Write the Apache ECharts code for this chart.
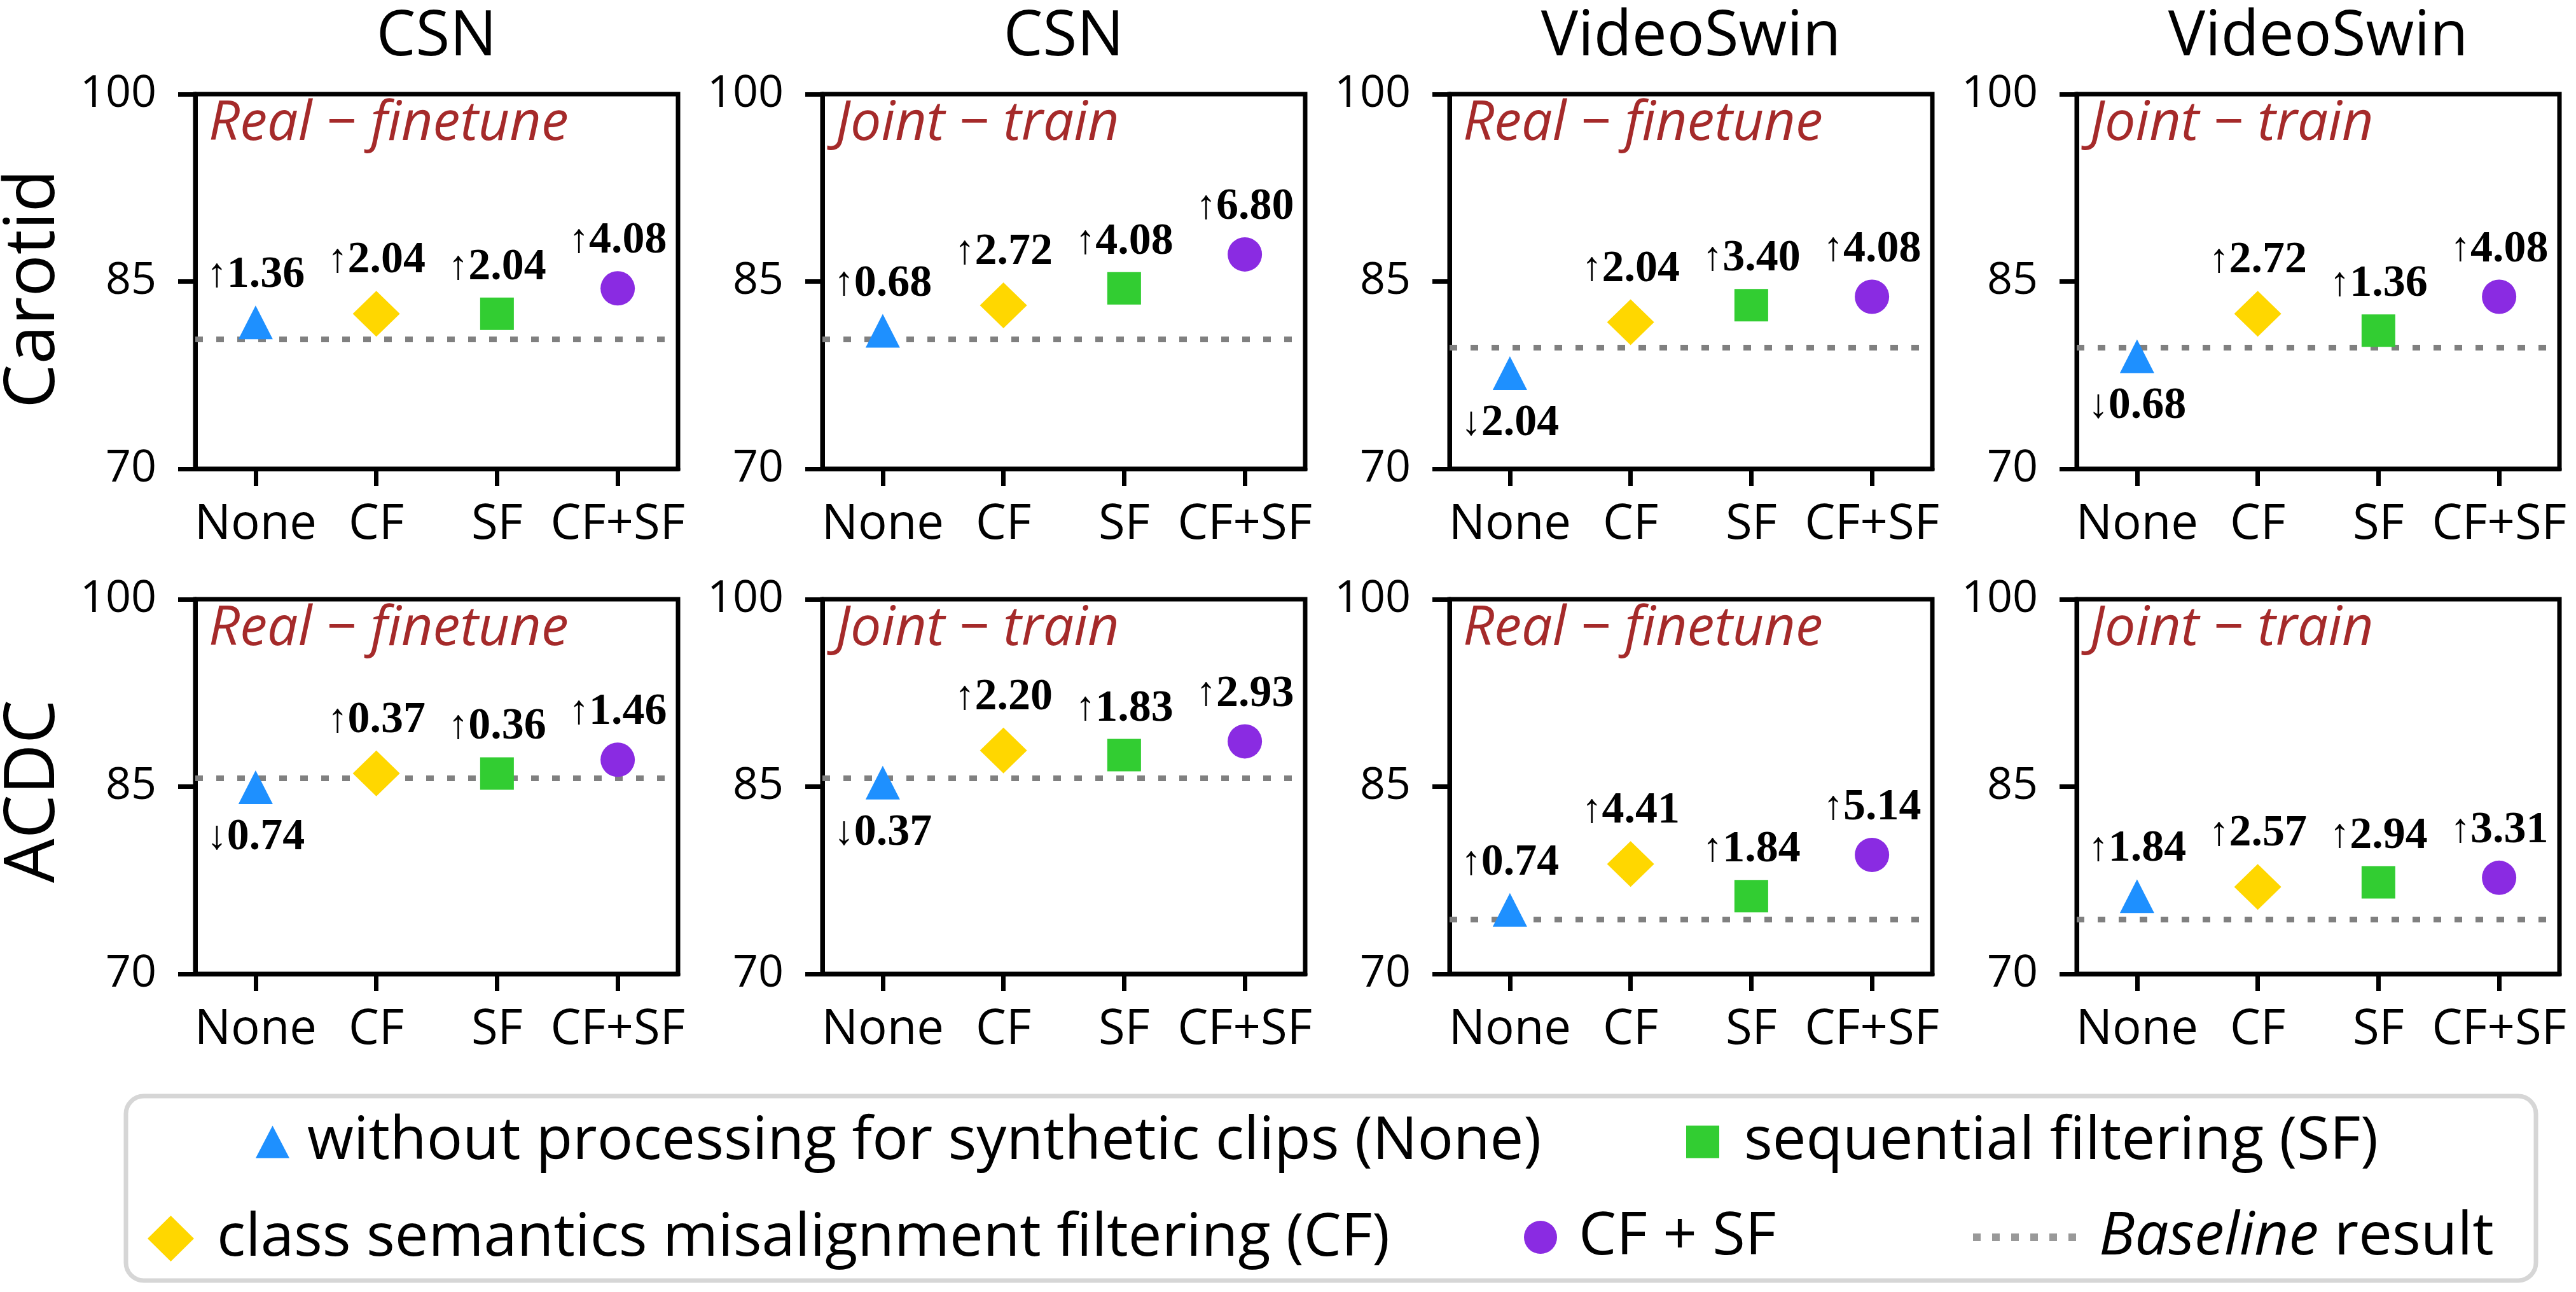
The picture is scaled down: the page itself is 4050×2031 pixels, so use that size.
<!DOCTYPE html>
<html><head><meta charset="utf-8">
<script src="https://cdn.jsdelivr.net/npm/echarts@6/dist/echarts.min.js"></script>
<style>html,body{margin:0;padding:0;background:#fff}#c{width:4050px;height:2031px}</style>
</head><body><div id="c"></div>
<script>
// ---------------- data ----------------
const categories = ['None', 'CF', 'SF', 'CF+SF'];
const yTicks = [70, 85, 100];
const models = ['CSN', 'CSN', 'VideoSwin', 'VideoSwin'];
const settings = ['Real − finetune', 'Joint − train', 'Real − finetune', 'Joint − train'];
const datasets = ['Carotid', 'ACDC'];
const methodNames = [
  'without processing for synthetic clips (None)',
  'class semantics misalignment filtering (CF)',
  'sequential filtering (SF)',
  'CF + SF'
];
const baselineName = 'Baseline result';

// values per panel: order None, CF, SF, CF+SF
const carotidCsnReal   = [81.73, 82.41, 82.41, 84.45];
const carotidCsnJoint  = [81.05, 83.09, 84.45, 87.17];
const carotidSwinReal  = [77.66, 81.74, 83.10, 83.78];
const carotidSwinJoint = [79.02, 82.42, 81.06, 83.78];
const acdcCsnReal      = [84.95, 86.06, 86.05, 87.15];
const acdcCsnJoint     = [85.32, 87.89, 87.52, 88.62];
const acdcSwinReal     = [75.13, 78.80, 76.23, 79.53];
const acdcSwinJoint    = [76.23, 76.96, 77.33, 77.70];

const baselines = [80.37, 80.37, 79.70, 79.70, 85.69, 85.69, 74.39, 74.39];

const lblCarotidCsnReal   = ['↑1.36', '↑2.04', '↑2.04', '↑4.08'];
const lblCarotidCsnJoint  = ['↑0.68', '↑2.72', '↑4.08', '↑6.80'];
const lblCarotidSwinReal  = ['↓2.04', '↑2.04', '↑3.40', '↑4.08'];
const lblCarotidSwinJoint = ['↓0.68', '↑2.72', '↑1.36', '↑4.08'];
const lblAcdcCsnReal      = ['↓0.74', '↑0.37', '↑0.36', '↑1.46'];
const lblAcdcCsnJoint     = ['↓0.37', '↑2.20', '↑1.83', '↑2.93'];
const lblAcdcSwinReal     = ['↑0.74', '↑4.41', '↑1.84', '↑5.14'];
const lblAcdcSwinJoint    = ['↑1.84', '↑2.57', '↑2.94', '↑3.31'];

const panelValues = [carotidCsnReal, carotidCsnJoint, carotidSwinReal, carotidSwinJoint,
                     acdcCsnReal, acdcCsnJoint, acdcSwinReal, acdcSwinJoint];
const panelLabels = [lblCarotidCsnReal, lblCarotidCsnJoint, lblCarotidSwinReal, lblCarotidSwinJoint,
                     lblAcdcCsnReal, lblAcdcCsnJoint, lblAcdcSwinReal, lblAcdcSwinJoint];

// ---------------- styling / layout ----------------
const colors = ['#1E90FF', '#FFD700', '#32CD32', '#8A2BE2'];
const symbols = ['triangle', 'diamond', 'rect', 'circle'];
const symbolSizes = [[54, 53], [74, 72], [53, 51], [54, 54]];
const colLeft = [307, 1293, 2279, 3265];
const rowTop = [148, 942];
const plotW = 759, plotH = 589;
const SANS = '"Open Sans", "Noto Sans", sans-serif';
const SERIF = '"Liberation Serif", "DejaVu Serif", serif';
const dottedIcon = 'path://M0,0h12v12h-12zM30,0h12v12h-12zM60,0h12v12h-12zM90,0h12v12h-12zM120,0h12v12h-12zM150,0h12v12h-12z';

const grids = [], xAxes = [], yAxes = [], series = [], graphics = [];

for (let r = 0; r < 2; r++) {
  for (let c = 0; c < 4; c++) {
    const p = r * 4 + c;
    grids.push({
      left: colLeft[c], top: rowTop[r], width: plotW, height: plotH,
      show: true, borderColor: '#000', borderWidth: 7, backgroundColor: 'transparent'
    });
    xAxes.push({
      type: 'category', gridIndex: p, data: categories, boundaryGap: true,
      axisLine: { show: true, lineStyle: { color: '#000', width: 7 } },
      axisTick: { show: true, alignWithLabel: true, length: 27, lineStyle: { color: '#000', width: 7 } },
      axisLabel: { color: '#000', fontSize: 76, fontFamily: SANS, margin: 50, interval: 0 },
      splitLine: { show: false }
    });
    yAxes.push({
      type: 'value', gridIndex: p, min: yTicks[0], max: yTicks[yTicks.length - 1],
      interval: yTicks[1] - yTicks[0],
      axisLine: { show: true, lineStyle: { color: '#000', width: 7 } },
      axisTick: { show: true, length: 27, lineStyle: { color: '#000', width: 7 } },
      axisLabel: { color: '#000', fontSize: 70, fontFamily: SANS, margin: 61 },
      splitLine: { show: false }
    });
    for (let m = 0; m < 4; m++) {
      const lab = panelLabels[p][m];
      const down = lab[0] === '↓';
      const s = {
        type: 'scatter', name: methodNames[m], xAxisIndex: p, yAxisIndex: p,
        symbol: symbols[m], symbolSize: symbolSizes[m],
        itemStyle: { color: colors[m], opacity: 1 },
        z: 3,
        data: [{
          value: [categories[m], panelValues[p][m]],
          label: {
            show: true,
            position: down ? 'bottom' : 'top',
            distance: down ? 18 : 12,
            formatter: '{a|' + lab[0] + '}{n|' + lab.slice(1) + '}',
            rich: {
              a: { fontFamily: SERIF, fontWeight: 'normal', fontSize: 64, color: '#000' },
              n: { fontFamily: SERIF, fontWeight: 'bold', fontSize: 70, color: '#000' }
            }
          }
        }],
        emphasis: { disabled: true }
      };
      if (m === 0) {
        s.markLine = {
          silent: true, symbol: 'none', z: 1,
          label: { show: false },
          lineStyle: { color: '#808080', width: 9, type: [12, 21], cap: 'butt' },
          data: [{ yAxis: baselines[p] }]
        };
      }
      series.push(s);
    }
    // panel annotation
    graphics.push({
      type: 'text', x: colLeft[c] + 21, y: rowTop[r] + 47, z: 5,
      style: { text: settings[c], font: 'italic 86px ' + SANS, fill: '#A52A2A',
               align: 'left', verticalAlign: 'middle' }
    });
  }
}
// dummy series (no data) only for the baseline legend entry
series.push({
  type: 'scatter', name: baselineName, xAxisIndex: 0, yAxisIndex: 0, data: [],
  symbol: dottedIcon, itemStyle: { color: '#808080' }
});

// column titles
for (let c = 0; c < 4; c++) {
  graphics.push({
    type: 'text', x: colLeft[c] + plotW / 2, y: 59,
    style: { text: models[c], font: '98px ' + SANS, fill: '#000', align: 'center', verticalAlign: 'middle' }
  });
}
// row titles
const rowLabelY = [454, 1244];
for (let r = 0; r < 2; r++) {
  graphics.push({
    type: 'text', x: 54, y: rowLabelY[r], rotation: Math.PI / 2,
    style: { text: datasets[r], font: '110px ' + SANS, fill: '#000', align: 'center', verticalAlign: 'middle' }
  });
}
// legend frame
graphics.push({
  type: 'rect', z: 0,
  shape: { x: 198, y: 1723, width: 3789, height: 290, r: 28 },
  style: { fill: '#fff', stroke: '#d6d6d6', lineWidth: 7 }
});

// the legend item's text box (about 94px tall) is taller than the icons, so
// "top" is the text-box top: icon centre = top + 47
function legendItem(name, left, centerY, w, h, gap, fmt) {
  return {
    data: [name], left: left, top: centerY - 47, itemWidth: w, itemHeight: h, padding: 0,
    selectedMode: false, z: 10, orient: 'horizontal',
    formatter: fmt || ('{g|}{t|' + name + '}'),
    textStyle: {
      fontSize: 94, fontFamily: SANS, color: '#000',
      rich: {
        g: { width: gap },
        t: { fontSize: 94, fontFamily: SANS, color: '#000' },
        i: { fontSize: 94, fontFamily: SANS, color: '#000', fontStyle: 'italic' }
      }
    }
  };
}
const legends = [
  legendItem(methodNames[0], 402, 1795, 53, 51, 23),
  legendItem(methodNames[2], 2651, 1795, 52, 51, 34),
  legendItem(methodNames[1], 232, 1947, 73, 72, 31),
  legendItem(methodNames[3], 2396, 1945, 52, 52, 29),
  legendItem(baselineName, 3102, 1945, 162, 12, 31, '{g|}{i|Baseline} {t|result}')
];

const option = {
  backgroundColor: '#fff',
  animation: false,
  grid: grids, xAxis: xAxes, yAxis: yAxes, series: series,
  legend: legends,
  graphic: graphics
};
const chart = echarts.init(document.getElementById('c'), null, { renderer: 'canvas' });
chart.setOption(option);
</script></body></html>
